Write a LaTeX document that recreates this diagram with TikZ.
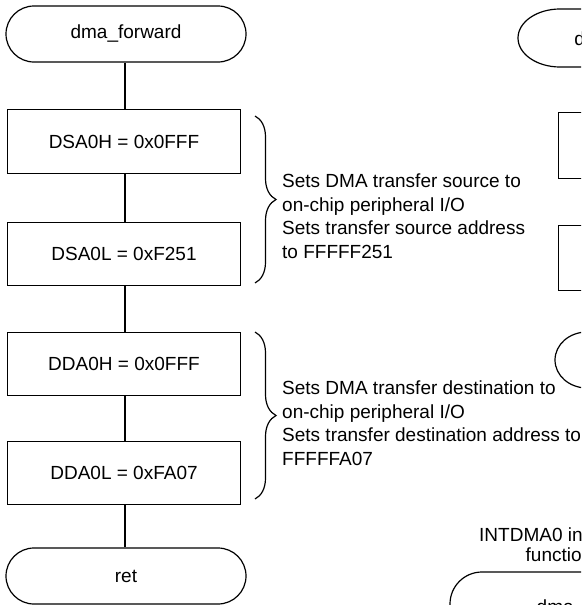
\documentclass[tikz,border=0pt]{standalone}
\usepackage{fontspec}
\setmainfont{Liberation Sans}
\usetikzlibrary{shapes.misc,decorations.pathreplacing}

\tikzset{
  stepbox/.style={draw,line width=1.2pt,minimum width=233pt,minimum height=63.5pt,inner sep=0pt},
  termbox/.style={draw,line width=1.2pt,rounded rectangle,minimum width=240pt,minimum height=56pt,inner sep=0pt},
  note/.style={align=left,anchor=north west,inner sep=0pt,font=\fontsize{19}{23.5}\selectfont},
  curly/.style={decorate,decoration={brace,amplitude=21pt},line width=1.2pt},
  flow/.style={line width=1.2pt},
}

\begin{document}
\begin{tikzpicture}[x=1pt,y=-1pt,font=\fontsize{19}{23}\selectfont]
  \useasboundingbox (0,0) rectangle (581,605);
  \clip (0,0) rectangle (581,605);
  % left flow: dma_forward
  \node[termbox] (start) at (126,34) {dma\_forward};
  \node[stepbox] (dsah) at (124,141.5) {DSA0H = 0x0FFF};
  \node[stepbox] (dsal) at (124,254) {DSA0L = 0xF251};
  \node[stepbox] (ddah) at (124,364) {DDA0H = 0x0FFF};
  \node[stepbox] (ddal) at (124,473) {DDA0L = 0xFA07};
  \node[termbox] (ret) at (126,576) {ret};
  \foreach \a/\b in {start/dsah,dsah/dsal,dsal/ddah,ddah/ddal,ddal/ret}
    \draw[flow] (\a.south -| 125,0) -- (\b.north -| 125,0);
  % notes
  \draw[curly] (255,116) -- (255,283);
  \node[note] (srcnote) at (282,173.6) {Sets DMA transfer source to\\on-chip peripheral I/O\\Sets transfer source address\\to FFFFF251};
  \draw[curly] (255,332) -- (255,499);
  \node[note] (dstnote) at (282,380.8) {Sets DMA transfer destination to\\on-chip peripheral I/O\\Sets transfer destination address to\\FFFFFA07};
  % right flow, cut at the edge
  \draw[flow] (640,9) -- (560,9) arc[start angle=90,end angle=270,x radius=42pt,y radius=29pt] -- (640,67);
  \node[anchor=base west,inner sep=0pt] (rtop) at (574.2,45.5) {d};
  \node[stepbox,anchor=north west,minimum height=66pt] (r1) at (558,112) {};
  \node[stepbox,anchor=north west,minimum height=65pt] (r2) at (558,225) {};
  \draw[flow] (640,332) -- (587,332) arc[start angle=90,end angle=270,x radius=32pt,y radius=28pt] -- (640,388);
  \node[anchor=base west,inner sep=0pt] (intlbl) at (479,541.6) {INTDMA0 in};
  \node[anchor=base west,inner sep=0pt] (funclbl) at (525.5,561) {functio};
  \draw[flow] (640,572) -- (482,572) arc[start angle=90,end angle=270,x radius=32pt,y radius=32pt] -- (640,636);
  \node[anchor=base west,inner sep=0pt] (rbot) at (536.5,613) {dma\_};
\end{tikzpicture}
\end{document}
